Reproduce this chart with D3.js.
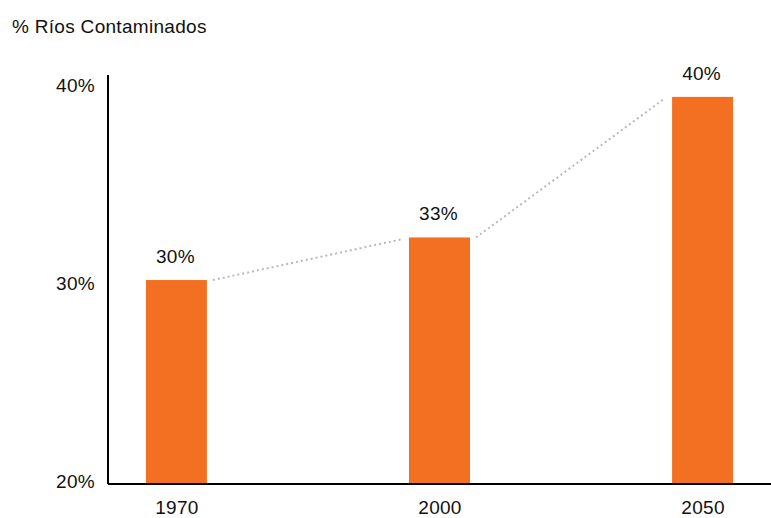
<!DOCTYPE html>
<html>
<head>
<meta charset="utf-8">
<script src="https://cdn.jsdelivr.net/npm/d3@7"></script>
<style>
  body { margin: 0; background: #fff; }
  svg text { font-family: "Liberation Sans", Arial, Helvetica, sans-serif; fill: #111; letter-spacing: 0.3px; }
</style>
</head>
<body>
<svg width="771" height="518"></svg>
<script>
// data
const years = ['1970', '2000', '2050'];
const values = [30.15, 32.3, 39.4];
const valueLabels = ['30%', '33%', '40%'];
const yTicks = [20, 30, 40];

const svg = d3.select('svg');
const width = +svg.attr('width');
const height = +svg.attr('height');

const axisX = 108;     // y axis line position
const baseY = 484;     // x axis line position
const fs = 19;

const x = d3.scalePoint()
  .domain(years)
  .range([axisX, width])
  .padding(0.26);

const y = d3.scaleLinear()
  .domain([20, 40])
  .range([481, 85]);

const barW = 61;

// title
svg.append('text')
  .attr('x', 12)
  .attr('y', 33)
  .attr('font-size', fs)
  .text('% Ríos Contaminados');

// y axis labels
const yAxisG = svg.append('g')
  .attr('transform', `translate(${axisX},0)`)
  .call(d3.axisLeft(y).tickValues(yTicks).tickSize(0).tickPadding(13).tickFormat(d => d + '%'));
yAxisG.select('.domain').remove();
yAxisG.selectAll('text')
  .attr('font-size', fs)
  .attr('fill', '#111')
  .attr('dy', '0.36em');

// dotted connectors between bars
const links = d3.pairs(years.map((d, i) => ({ year: d, v: values[i] })));
svg.selectAll('.link').data(links)
  .enter().append('line')
    .attr('class', 'link')
    .attr('x1', d => x(d[0].year) + barW / 2 + 6)
    .attr('y1', d => y(d[0].v))
    .attr('x2', d => x(d[1].year) - barW / 2 - 8)
    .attr('y2', d => y(d[1].v) + 2)
    .attr('stroke', '#bdb8b3')
    .attr('stroke-width', 2)
    .attr('stroke-dasharray', '2,3');

// bars
svg.selectAll('.bar').data(values)
  .enter().append('rect')
    .attr('class', 'bar')
    .attr('x', (d, i) => x(years[i]) - barW / 2)
    .attr('y', d => y(d))
    .attr('width', barW)
    .attr('height', d => baseY - y(d))
    .attr('fill', '#f37022');

// value labels
svg.selectAll('.val').data(values)
  .enter().append('text')
    .attr('class', 'val')
    .attr('x', (d, i) => x(years[i]) - 1)
    .attr('y', d => y(d) - 17)
    .attr('text-anchor', 'middle')
    .attr('font-size', fs)
    .text((d, i) => valueLabels[i]);

// x axis
const xAxisG = svg.append('g')
  .attr('transform', `translate(0,${baseY})`)
  .call(d3.axisBottom(x).tickSize(0).tickPadding(17));
xAxisG.select('.domain').remove();
xAxisG.selectAll('text')
  .attr('font-size', fs)
  .attr('fill', '#111');

// axis lines
svg.append('line')
  .attr('x1', axisX).attr('x2', width)
  .attr('y1', baseY).attr('y2', baseY)
  .attr('stroke', '#000').attr('stroke-width', 2);
svg.append('line')
  .attr('x1', axisX).attr('x2', axisX)
  .attr('y1', 75).attr('y2', baseY)
  .attr('stroke', '#000').attr('stroke-width', 2);
</script>
</body>
</html>
